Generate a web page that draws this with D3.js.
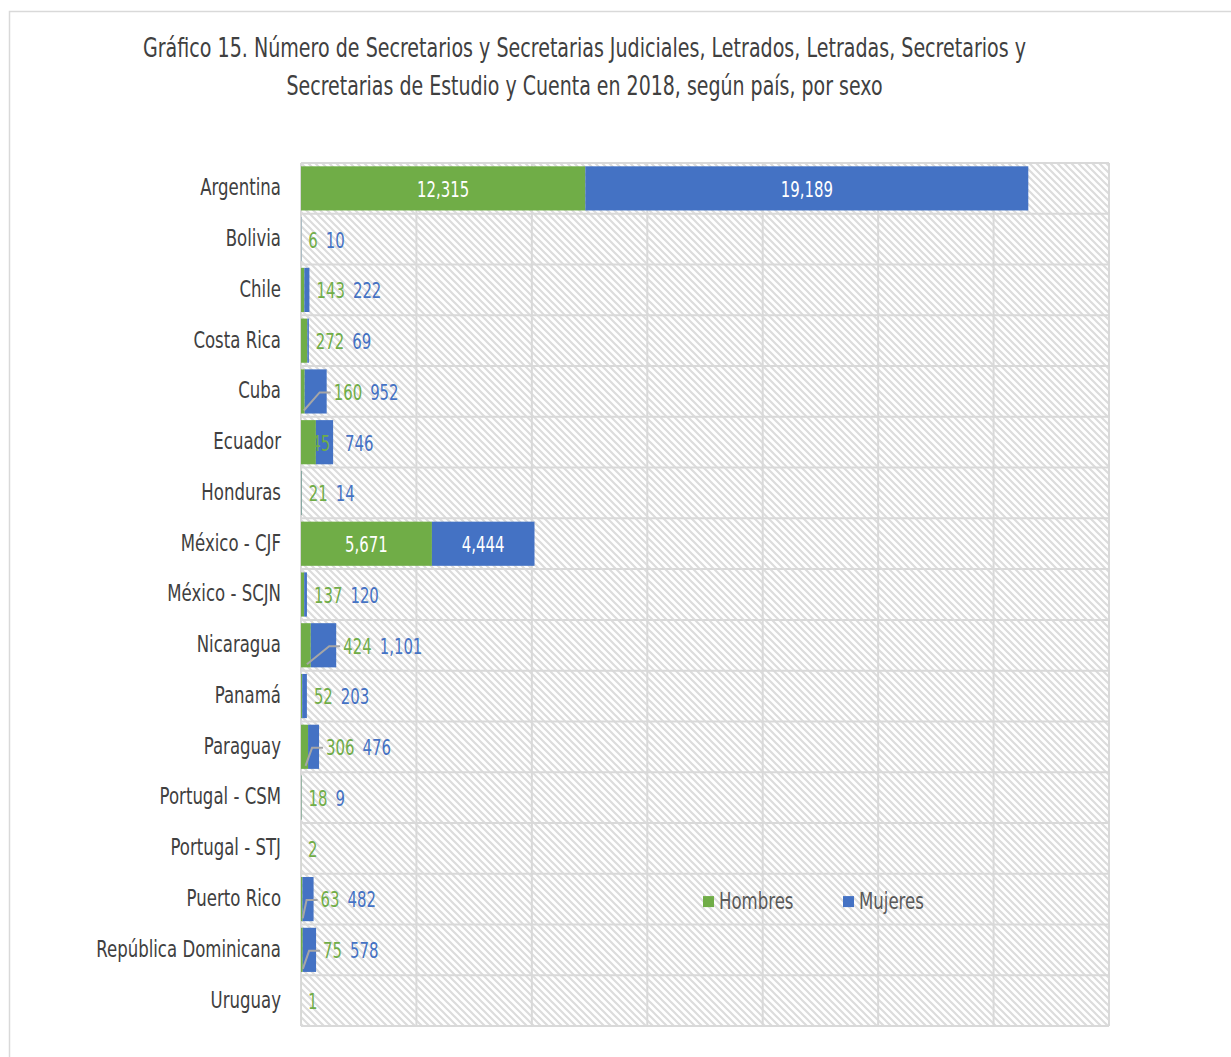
<!DOCTYPE html>
<html>
<head>
<meta charset="utf-8">
<script src="https://cdn.jsdelivr.net/npm/d3@7"></script>
<style>
  body { margin: 0; background: #fff; }
  text { font-family: "DejaVu Sans", sans-serif; }
</style>
</head>
<body>
<div id="chart"></div>
<script>
// Data
let paises = ["Argentina", "Bolivia", "Chile", "Costa Rica", "Cuba", "Ecuador", "Honduras",
  "México - CJF", "México - SCJN", "Nicaragua", "Panamá", "Paraguay", "Portugal - CSM",
  "Portugal - STJ", "Puerto Rico", "República Dominicana", "Uruguay"];
let hombres = [12315, 6, 143, 272, 160, 645, 21, 5671, 137, 424, 52, 306, 18, 2, 63, 75, 1];
let mujeres = [19189, 10, 222, 69, 952, 746, 14, 4444, 120, 1101, 203, 476, 9, null, 482, 578, null];
let xTicks = [0, 5000, 10000, 15000, 20000, 25000, 30000, 35000];
let titulo = ["Gráfico 15. Número de Secretarios y Secretarias Judiciales, Letrados, Letradas, Secretarios y",
  "Secretarias de Estudio y Cuenta en 2018, según país, por sexo"];

let svgWidth = 1231;
let svgHeight = 1057;
let margin = { top: 163, right: 122, bottom: 31, left: 301 };
let width = svgWidth - margin.left - margin.right;
let height = svgHeight - margin.top - margin.bottom;

let verde = "#70ad47";
let azul = "#4472c4";
let fmt = d3.format(",");
let narrow = 0.71; // the original uses a condensed face

// squeeze text horizontally to imitate a condensed font, returns the new width
function squeeze(sel, k) {
  let w = 0;
  sel.each(function() {
    let l = this.getComputedTextLength() * k;
    d3.select(this)
      .attr("textLength", l)
      .attr("lengthAdjust", "spacingAndGlyphs");
    w = l;
  });
  return w;
}

let svg = d3.select("#chart").append("svg")
  .attr("width", svgWidth)
  .attr("height", svgHeight);

// hatch pattern for the plot area
let defs = svg.append("defs");
defs.append("pattern")
  .attr("id", "hatch")
  .attr("patternUnits", "userSpaceOnUse")
  .attr("width", 7).attr("height", 7)
  .append("path")
  .attr("d", "M0,0 L7,7 M-1,6 L1,8 M6,-1 L8,1")
  .attr("stroke", "#dcdcdc")
  .attr("stroke-width", 2.2);

// outer frame
svg.append("rect")
  .attr("x", 9.5).attr("y", 11.5)
  .attr("width", 1400).attr("height", 1200)
  .attr("fill", "none")
  .attr("stroke", "#d9d9d9")
  .attr("stroke-width", 1.5);

// title, fitted to the width of the original lines
let titleWidths = [883, 596];
svg.append("g").selectAll("text")
  .data(titulo)
  .enter().append("text")
  .attr("x", 584.5)
  .attr("y", (d, i) => 57 + i * 38)
  .attr("text-anchor", "middle")
  .attr("fill", "#404040")
  .attr("textLength", (d, i) => titleWidths[i])
  .attr("lengthAdjust", "spacingAndGlyphs")
  .style("font-size", "27px")
  .text(d => d);

let chartGroup = svg.append("g")
  .attr("transform", `translate(${margin.left}, ${margin.top})`);

let x = d3.scaleLinear().domain([0, 35000]).range([0, width]);
let y = d3.scaleBand().domain(paises).range([0, height]).paddingInner(0.13).paddingOuter(0.065);
let rowH = height / paises.length;

chartGroup.append("rect")
  .attr("width", width).attr("height", height)
  .attr("fill", "url(#hatch)");

// grid lines
chartGroup.append("g").selectAll("line")
  .data(xTicks)
  .enter().append("line")
  .attr("x1", d => x(d)).attr("x2", d => x(d))
  .attr("y1", 0).attr("y2", height)
  .attr("stroke", "#d9d9d9").attr("stroke-width", 2);

chartGroup.append("g").selectAll("line")
  .data(d3.range(paises.length + 1))
  .enter().append("line")
  .attr("x1", 0).attr("x2", width)
  .attr("y1", d => d * rowH).attr("y2", d => d * rowH)
  .attr("stroke", "#d9d9d9").attr("stroke-width", 2);

// category axis
let leftAxis = d3.axisLeft(y).tickSize(0).tickPadding(20);
let yAxis = chartGroup.append("g").call(leftAxis);
yAxis.select(".domain").remove();
yAxis.attr("font-family", null).attr("font-size", null);
yAxis.selectAll("text")
  .attr("fill", "#404040")
  .style("font-size", "23px")
  .attr("dy", "0.3em")
  .each(function() { squeeze(d3.select(this), 0.72); });

let rows = paises.map((p, i) => ({ pais: p, h: hombres[i], m: mujeres[i] || 0, mRaw: mujeres[i] }));

// bars
chartGroup.append("g").selectAll("rect")
  .data(rows)
  .enter().append("rect")
  .attr("x", 0)
  .attr("y", d => y(d.pais))
  .attr("width", d => x(d.h))
  .attr("height", y.bandwidth())
  .attr("fill", verde);

chartGroup.append("g").selectAll("rect")
  .data(rows.filter(d => d.m > 0))
  .enter().append("rect")
  .attr("x", d => x(d.h))
  .attr("y", d => y(d.pais))
  .attr("width", d => x(d.m))
  .attr("height", y.bandwidth())
  .attr("fill", azul);

// data labels
let leaderGroup = chartGroup.append("g");
let labelGroup = chartGroup.append("g");

function addLabel(px, py, anchor, color, value) {
  let t = labelGroup.append("text")
    .attr("x", px).attr("y", py).attr("dy", "0.4em")
    .attr("text-anchor", anchor).attr("fill", color)
    .style("font-size", "21px")
    .text(fmt(value));
  return squeeze(t, narrow);
}

rows.forEach(function(d) {
  let cy = y(d.pais) + y.bandwidth() / 2;
  let gEnd = x(d.h);
  let tEnd = x(d.h + d.m);
  let nextX;

  if (gEnd > 50) {
    addLabel(gEnd / 2, cy, "middle", "#fff", d.h);
  } else if (gEnd > 12) {
    // label centred on the end of the green segment
    addLabel(gEnd, cy, "middle", verde, d.h);
    nextX = tEnd + 12;
  } else {
    let gx = Math.max(tEnd + 7, 7);
    let w = addLabel(gx, cy, "start", verde, d.h);
    nextX = gx + w + 8;
    // leader line when the label sits far from its segment
    if (gx - gEnd > 16) {
      let y0 = y(d.pais) + y.bandwidth() - 3;
      leaderGroup.append("polyline")
        .attr("points", `${gEnd / 2 + 1},${y0} ${gx - 14},${cy + 1} ${gx - 3},${cy + 1}`)
        .attr("fill", "none")
        .attr("stroke", "#a6a6a6")
        .attr("stroke-width", 2);
    }
  }

  if (d.mRaw == null) return;
  let bw = tEnd - gEnd;
  if (bw > 50) {
    addLabel(gEnd + bw / 2, cy, "middle", "#fff", d.m);
  } else {
    addLabel(nextX, cy, "start", azul, d.m);
  }
});

// legend
let series = [{ name: "Hombres", color: verde }, { name: "Mujeres", color: azul }];
let legend = chartGroup.append("g")
  .attr("transform", `translate(402, ${y("Puerto Rico") + y.bandwidth() / 2 + 2})`);
let items = legend.selectAll("g")
  .data(series)
  .enter().append("g")
  .attr("transform", (d, i) => `translate(${i * 140}, 0)`);
items.append("rect")
  .attr("x", 0).attr("y", -5)
  .attr("width", 11).attr("height", 11)
  .attr("fill", d => d.color);
items.append("text")
  .attr("x", 16).attr("y", 0).attr("dy", "0.35em")
  .attr("fill", "#595959")
  .style("font-size", "23px")
  .text(d => d.name)
  .each(function() { squeeze(d3.select(this), 0.72); });
</script>
</body>
</html>
